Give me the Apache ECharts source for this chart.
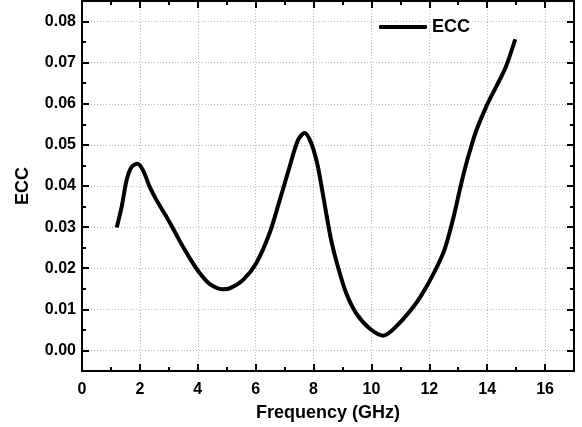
<!DOCTYPE html>
<html>
<head>
<meta charset="utf-8">
<script src="https://cdn.jsdelivr.net/npm/echarts@6/dist/echarts.min.js"></script>
<style>
  html, body { margin: 0; padding: 0; background: #fff; }
  #chart { width: 582px; height: 427px; }
</style>
</head>
<body>
<div id="chart"></div>
<script>
// 数据 (读自参考图)
const freq = [1.2, 1.37, 1.54, 1.71, 1.92, 2.11, 2.34, 2.58, 2.92, 3.21, 3.49, 3.78, 4.07, 4.41, 4.85,
    5.10, 5.56, 6.02, 6.48, 6.83, 7.17, 7.46, 7.69, 7.90, 8.11, 8.26, 8.44, 8.61, 8.84, 9.13, 9.47, 9.93,
    10.41, 10.85, 11.42, 11.75, 12.17, 12.52, 12.75, 12.92, 13.09, 13.32, 13.61, 13.96, 14.3, 14.64, 14.97];
const ecc = [0.0299, 0.0349, 0.0414, 0.0446, 0.0454, 0.0438, 0.0398, 0.0365, 0.0325, 0.0288, 0.0252, 0.0218,
    0.0188, 0.0162, 0.0149, 0.0151, 0.0171, 0.0212, 0.0285, 0.0365, 0.0446, 0.0511, 0.0529, 0.0508, 0.0460,
    0.0406, 0.0333, 0.0268, 0.0204, 0.0139, 0.0091, 0.0054, 0.0036, 0.0058, 0.0103, 0.0137, 0.0190,
    0.0244, 0.0300, 0.0349, 0.0402, 0.0465, 0.0532, 0.0592, 0.0640, 0.0689, 0.0757];

// 刻度
const xMajor = [0, 2, 4, 6, 8, 10, 12, 14, 16];
const xMinor = [1, 3, 5, 7, 9, 11, 13, 15];
const yMajor = [0, 0.01, 0.02, 0.03, 0.04, 0.05, 0.06, 0.07, 0.08];
const yMinor = [-0.005, 0.005, 0.015, 0.025, 0.035, 0.045, 0.055, 0.065, 0.075];

const font = 'Liberation Sans, Arial, sans-serif';
const axisLine = { show: true, onZero: false, lineStyle: { color: '#000', width: 2 } };
const gridLine = { show: true, lineStyle: { color: '#b4b4b4', type: [1, 2], width: 1 } };

const xRange = { type: 'value', min: 0, max: 17 };
const yRange = { type: 'value', min: -0.005, max: 0.085 };

function minorAxis(base, pos, values) {
    return {
        ...base,
        position: pos,
        axisLine: { show: false, onZero: false },
        axisTick: { show: true, inside: true, length: 4, customValues: values, lineStyle: { color: '#000', width: 2 } },
        axisLabel: { show: false },
        splitLine: { show: false }
    };
}

const chart = echarts.init(document.getElementById('chart'));

const option = {
    backgroundColor: '#fff',
    animation: false,
    grid: { left: 82, right: 8, top: 1, bottom: 56 },
    legend: {
        left: 374,
        top: 13,
        itemWidth: 48,
        itemHeight: 4,
        itemGap: 4,
        textStyle: { fontFamily: font, fontWeight: 'bold', fontSize: 18, color: '#000' },
        data: [{ name: 'ECC', icon: 'roundRect' }]
    },
    xAxis: [{
        ...xRange,
        position: 'bottom',
        name: 'Frequency (GHz)',
        nameLocation: 'middle',
        nameGap: 33,
        nameTextStyle: { fontFamily: font, fontWeight: 'bold', fontSize: 18, color: '#000' },
        axisLine: axisLine,
        axisTick: { show: true, inside: true, length: 7, customValues: xMajor, lineStyle: { color: '#000', width: 2 } },
        axisLabel: { customValues: xMajor, margin: 11, fontFamily: font, fontWeight: 'bold', fontSize: 16, color: '#000' },
        splitLine: gridLine
    }, {
        ...xRange,
        position: 'top',
        axisLine: axisLine,
        axisTick: { show: true, inside: true, length: 7, customValues: xMajor, lineStyle: { color: '#000', width: 2 } },
        axisLabel: { show: false },
        splitLine: { show: false }
    },
        minorAxis(xRange, 'bottom', xMinor),
        minorAxis(xRange, 'top', xMinor)
    ],
    yAxis: [{
        ...yRange,
        position: 'left',
        name: 'ECC',
        nameLocation: 'middle',
        nameGap: 50,
        nameTextStyle: { fontFamily: font, fontWeight: 'bold', fontSize: 18, color: '#000' },
        axisLine: axisLine,
        axisTick: { show: true, inside: true, length: 7, customValues: yMajor, lineStyle: { color: '#000', width: 2 } },
        axisLabel: {
            customValues: yMajor, margin: 6, fontFamily: font, fontWeight: 'bold', fontSize: 16, color: '#000',
            formatter: (v) => v.toFixed(2)
        },
        splitLine: gridLine
    }, {
        ...yRange,
        position: 'right',
        axisLine: axisLine,
        axisTick: { show: true, inside: true, length: 7, customValues: yMajor, lineStyle: { color: '#000', width: 2 } },
        axisLabel: { show: false },
        splitLine: { show: false }
    },
        minorAxis(yRange, 'left', yMinor),
        minorAxis(yRange, 'right', yMinor)
    ],
    series: [{
        name: 'ECC',
        type: 'line',
        xAxisIndex: 0,
        yAxisIndex: 0,
        data: freq.map((f, i) => [f, ecc[i]]),
        smooth: 0.3,
        symbol: 'none',
        lineStyle: { color: '#000', width: 4 },
        itemStyle: { color: '#000' }
    }]
};

chart.setOption(option);
</script>
</body>
</html>
